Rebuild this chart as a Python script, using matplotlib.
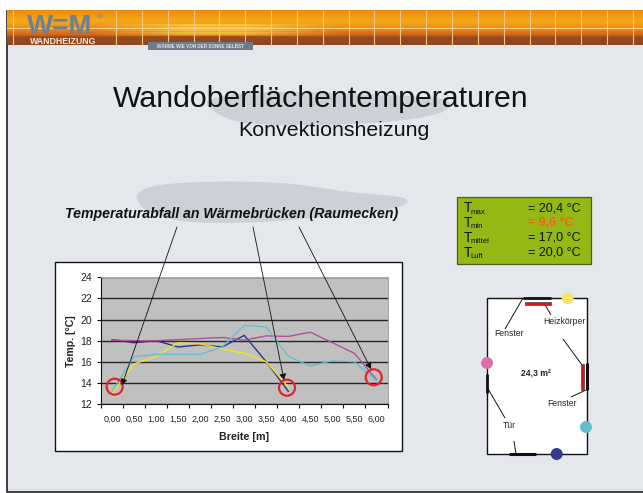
import numpy as np
import matplotlib
matplotlib.use("Agg")
import matplotlib.pyplot as plt
from matplotlib.patches import Rectangle, Circle, Polygon

plt.rcParams["font.family"] = ["Liberation Sans", "DejaVu Sans"]

W, H = 643, 493

breite = ["0,00", "0,50", "1,00", "1,50", "2,00", "2,50", "3,00", "3,50", "4,00",
          "4,50", "5,00", "5,50", "6,00"]
navy = [18.1, 17.8, 18.0, 17.4, 17.6, 17.4, 18.5, 16.0, 13.2]
magenta = [18.05, 18.0, 18.0, 18.1, 18.2, 18.3, 18.05, 18.45, 18.4, 18.8, 17.8, 16.8, 14.3]
yellow = [13.0, 15.8, 16.5, 17.8, 17.7, 17.2, 16.8, 16.0, 13.6]
cyan = [13.2, 16.5, 16.7, 16.7, 16.7, 17.4, 19.45, 19.3, 16.5, 15.6, 16.1, 16.0, 14.2]
y_ticks = [12, 14, 16, 18, 20, 22, 24]

stat_names = ["max", "min", "mittel", "Luft"]
stat_values = ["= 20,4 °C", "= 9,6 °C", "= 17,0 °C", "= 20,0 °C"]


def blob(pts):
    # closed smooth outline through the points
    pts = np.array(pts, dtype=float)
    out = []
    n = len(pts)
    for i in range(n):
        p0, p1, p2, p3 = pts[i - 1], pts[i], pts[(i + 1) % n], pts[(i + 2) % n]
        for t in np.linspace(0, 1, 12, endpoint=False):
            out.append(0.5 * (2 * p1 + (p2 - p0) * t + (2 * p0 - 5 * p1 + 4 * p2 - p3) * t ** 2
                              + (3 * p1 - p0 - 3 * p2 + p3) * t ** 3))
    return np.array(out)


fig = plt.figure(figsize=(W / 100, H / 100), dpi=100, facecolor="white")
ax = fig.add_axes([0, 0, 1, 1])
ax.set_xlim(0, W)
ax.set_ylim(H, 0)
ax.axis("off")

# slide background
ax.add_patch(Rectangle((6.5, 10.5), 640, 481.5, fc="#e4e7ec", ec="#222222", lw=1.2, zorder=1))

# header band
stops_y = [0, 0.12, 0.3, 0.45, 0.6, 0.72, 0.78, 1.0]
stops_r = [232, 240, 246, 240, 232, 205, 150, 145]
stops_g = [140, 150, 170, 150, 120, 100, 75, 70]
stops_b = [20, 20, 20, 25, 25, 25, 30, 30]
ys = np.linspace(0, 1, 40)
band = np.dstack([np.interp(ys, stops_y, c) for c in (stops_r, stops_g, stops_b)]) / 255
band = np.repeat(band.reshape(40, 1, 3), 320, axis=1)
xs = np.linspace(7, W, 320)
glow = np.clip(1.3 - np.abs(xs - 215) / 95, 0, 1)
for i, y in enumerate(ys):
    if 0.40 < y < 0.72:
        stripe = 0.85 if i % 3 else 0.45
        band[i, :, :] = (band[i, :, :] * (1 - stripe * glow[:, None])
                         + np.array([1.0, 0.80, 0.25]) * stripe * glow[:, None])
ax.imshow(band, extent=(7, W, 45.5, 11), aspect="auto", zorder=2, interpolation="bilinear")
ax.set_xlim(0, W)
ax.set_ylim(H, 0)
ax.plot([7, W], [27.5, 27.5], color="#f3d58a", lw=0.8, zorder=3)
for gx in [13] + list(np.arange(116, W, 25.85)):
    ax.plot([gx, gx], [11, 45.5], color="#ecc98a", lw=0.8, zorder=3)

# logo and tag
ax.text(60, 34.5, "W=M", color="#6f8094", fontsize=20, fontweight="bold", ha="center", va="baseline", zorder=4)
ax.text(100, 18, "®", color="#6f8094", fontsize=6, ha="center", va="center", zorder=4)
ax.text(63, 41, "WANDHEIZUNG", color="#f4ead8", fontsize=6.3, fontweight="bold", ha="center", va="center", zorder=4)
ax.add_patch(Rectangle((148, 42), 105, 8, fc="#6d7b8b", ec="none", zorder=4))
ax.text(200, 46, "WÄRME WIE VON DER SONNE SELBST", color="#dde2e8", fontsize=3.3, fontweight="bold",
        ha="center", va="center", zorder=5)

# gray brush shapes behind the titles
ax.add_patch(Polygon(blob([(207, 104), (235, 94), (300, 92), (390, 95), (445, 100), (440, 113), (385, 122),
                           (310, 125), (240, 122)]), fc="#cdd0d6", ec="none", zorder=2))
ax.add_patch(Polygon(blob([(137, 198), (150, 187), (200, 182), (280, 183), (350, 192), (404, 198), (395, 208),
                           (330, 216), (260, 222), (190, 222), (150, 212)]), fc="#cdd0d6", ec="none", zorder=2))

ax.text(320.5, 99, "Wandoberflächentemperaturen", fontsize=21.8, color="#111111", ha="center", va="center", zorder=6)
ax.text(334, 131, "Konvektionsheizung", fontsize=15.4, color="#111111", ha="center", va="center", zorder=6)
ax.text(232, 214, "Temperaturabfall an Wärmebrücken (Raumecken)", fontsize=10.2, fontweight="bold",
        style="italic", color="#111111", ha="center", va="center", zorder=6)

# chart box
ax.add_patch(Rectangle((54.5, 261.5), 347, 189.5, fc="white", ec="#111111", lw=1.0, zorder=3))

cax = fig.add_axes([101 / W, 1 - 404 / H, 286.5 / W, 126.7 / H], zorder=2)
cax.set_facecolor("#c0c0c0")
for series, col in ((navy, "#2e3382"), (magenta, "#b0509a"), (yellow, "#f5e31a"), (cyan, "#62c0d2")):
    cax.plot(range(len(series)), series, color=col, lw=1.0, zorder=3)
cax.set_xlim(-0.5, 12.5)
cax.set_ylim(12, 24)
cax.set_yticks(y_ticks)
cax.tick_params(axis="y", labelsize=7.5, length=3.2, width=0.8, pad=3.5, color="#111111", labelcolor="#222222")
cax.set_xticks(np.arange(-0.5, 13))
cax.set_xticklabels([])
cax.set_xticks(np.arange(13), labels=breite, minor=True)
cax.tick_params(axis="x", which="major", length=3, width=0.8, color="#111111")
cax.tick_params(axis="x", which="minor", length=0, labelsize=6.5, pad=7.5, labelcolor="#222222")
cax.grid(axis="y", color="#262626", lw=1.0, zorder=1)
cax.set_axisbelow(True)
cax.set_xlabel("Breite [m]", fontsize=7.7, fontweight="bold", labelpad=6, color="#222222")
cax.set_ylabel("Temp. [°C]", fontsize=7.6, fontweight="bold", labelpad=3, color="#222222")
for side in ("top", "right"):
    cax.spines[side].set_color("#a8a8a8")
for side in ("left", "bottom"):
    cax.spines[side].set_color("#111111")

# overlay for arrows and circles, on top of the chart
top = fig.add_axes([0, 0, 1, 1], zorder=5)
top.set_xlim(0, W)
top.set_ylim(H, 0)
top.axis("off")
top.patch.set_alpha(0)
for start, end in (((177, 227), (122, 385)), ((253, 227), (284, 380)), ((299, 227), (371, 369))):
    top.annotate("", xy=end, xytext=start,
                 arrowprops=dict(arrowstyle="-|>,head_width=0.2,head_length=0.36", color="#111111", lw=0.6,
                                 shrinkA=0, shrinkB=0))
for c in ((114.7, 386.7), (287, 387.7), (373.7, 377.3)):
    top.add_patch(Circle(c, 8, fc="none", ec="#e0252a", lw=1.6))

# stats box
ax.add_patch(Rectangle((456.5, 197), 134.5, 67, fc="#94b814", ec="#4d5a20", lw=0.9, zorder=3))
for i, (name, val) in enumerate(zip(stat_names, stat_values)):
    y = 208.5 + i * 14.7
    ax.text(463.5, y, "T", fontsize=10, color="#111111", va="center", zorder=4)
    ax.text(470.5, y + 3.5, name, fontsize=5.6, color="#111111", va="center", zorder=4)
    hot = i == 1
    ax.text(528, y, val, fontsize=9, color="#f0641e" if hot else "#111111",
            fontweight="bold" if hot else "normal", va="center", zorder=4)

# room sketch
ax.add_patch(Rectangle((487, 298.3), 100.3, 155.7, fc="white", ec="#111111", lw=1.0, zorder=3))
for x0, y0, x1, y1, lw in ((523, 298, 551, 298, 2.0), (487, 374, 487, 393, 2.0), (509, 454, 536, 454, 2.2),
                           (586.5, 363, 586.5, 390, 2.2), (523, 298, 505, 329, 0.7), (544, 303, 551, 315, 0.7),
                           (563, 339, 582, 365, 0.7), (571, 397, 586, 390, 0.7), (487, 387, 505, 418, 0.7),
                           (514, 441, 516, 454, 0.7)):
    ax.plot([x0, x1], [y0, y1], color="#111111", lw=lw, zorder=4, solid_capstyle="butt")
ax.add_patch(Rectangle((525, 301.5), 25.5, 3, fc="#e01414", ec="#444444", lw=0.5, zorder=4))
ax.add_patch(Rectangle((580.5, 363.5), 3, 26.5, fc="#e01414", ec="#444444", lw=0.5, zorder=4))
for c, col in (((567.7, 298.3), "#f5e36a"), ((487, 363), "#dd6fa8"), ((586, 427), "#65bdd0"), ((556.7, 454), "#343c90")):
    ax.add_patch(Circle(c, 6, fc=col, ec="none", zorder=5))
for x, y, s in ((509, 334, "Fenster"), (564, 322, "Heizkörper"), (562.5, 403, "Fenster"), (509, 425, "Tür")):
    ax.text(x, y, s, fontsize=6.2, color="#222222", ha="center", va="center", zorder=5)
ax.text(536, 374, "24,3 m²", fontsize=6.2, fontweight="bold", color="#222222", ha="center", va="center", zorder=5)

fig.savefig("out.png", dpi=100)
